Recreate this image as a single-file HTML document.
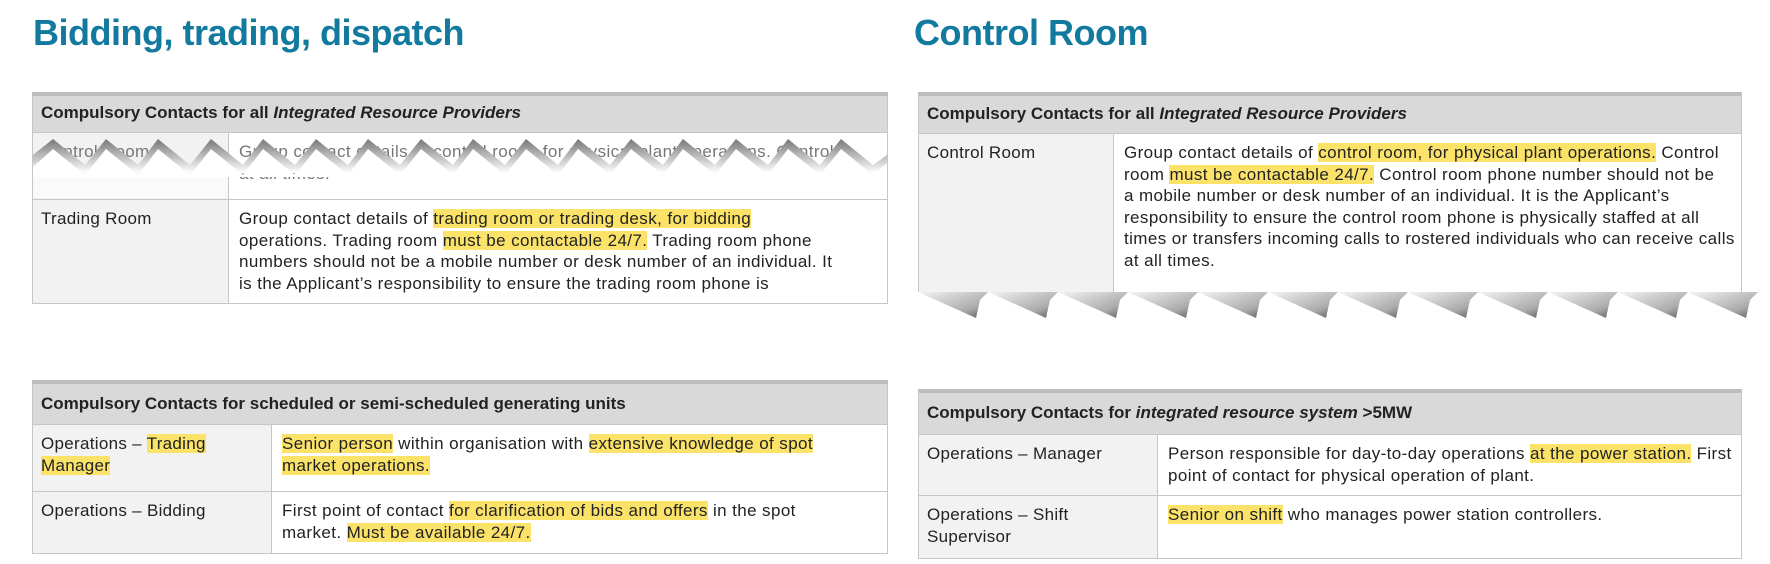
<!DOCTYPE html>
<html><head><meta charset="utf-8"><style>
body{margin:0;width:1770px;height:564px;background:#fff;position:relative;overflow:hidden;font-family:"Liberation Sans",sans-serif;color:#222}
.t{position:absolute;font-weight:bold;font-size:36px;color:#127a9e;letter-spacing:-0.5px}
.tb{position:absolute;border:1px solid #c6c6c6;border-top:4px solid #bdbdbd;box-sizing:border-box;background:#fff;overflow:hidden}
.h{position:absolute;left:0;right:0;top:0;background:#d9d9d9;font-size:17px;font-weight:bold;padding-left:8px;box-sizing:border-box;border-bottom:1px solid #c6c6c6;white-space:nowrap}
.r{position:absolute;left:0;right:0;border-bottom:1px solid #c6c6c6;box-sizing:border-box}
.l{position:absolute;left:0;top:0;bottom:0;background:#f2f2f2;border-right:1px solid #c6c6c6;padding:8px 0 0 8px;box-sizing:border-box;font-size:17px;letter-spacing:0.3px;line-height:21.5px;white-space:nowrap}
.d{position:absolute;top:0;padding-top:8px;font-size:17px;letter-spacing:0.4px;line-height:21.5px;white-space:nowrap}
.y{background:#fbe36a}
i{font-style:italic}
</style></head><body>
<div class="t" style="left:33px;top:12px">Bidding, trading, dispatch</div>
<div class="t" style="left:914px;top:12px">Control Room</div>

<!-- table 1 -->
<div class="tb" style="left:32px;top:92px;width:856px;height:212px">
 <div class="h" style="height:37px;line-height:34px">Compulsory Contacts for all <i>Integrated Resource Providers</i></div>
 <div class="r" style="top:37px;height:67px">
  <div class="l" style="width:196px;color:#777">Control Room</div>
  <div class="d" style="left:206px;color:#777">Group contact details of control room, for physical plant operations. Control<br>at all times.</div>
 </div>
 <svg style="position:absolute;left:0;top:37px" width="854" height="66">
  <defs><linearGradient id="g" x1="0" y1="0" x2="0" y2="1"><stop offset="0" stop-color="#777"/><stop offset="1" stop-color="#fff"/></linearGradient></defs>
  <polygon fill="url(#g)" points="0,22 20,6 52,32 73,6 105,32 125,6 157,32 178,6 210,32 230,6 262,32 283,6 315,32 335,6 367,32 388,6 420,32 440,6 472,32 493,6 525,32 545,6 577,32 598,6 630,32 650,6 682,32 703,6 735,32 755,6 787,32 808,6 840,32 854,22 854,40 0,40"/>
  <polygon fill="#fff" points="0,34 20,16 52,42 73,16 105,42 125,16 157,42 178,16 210,42 230,16 262,42 283,16 315,42 335,16 367,42 388,16 420,42 440,16 472,42 493,16 525,42 545,16 577,42 598,16 630,42 650,16 682,42 703,16 735,42 755,16 787,42 808,16 840,42 854,30 854,44 0,44"/>
  <rect x="0" y="44" width="195" height="21" fill="#fafafa"/>
  <rect x="205" y="58" width="649" height="7" fill="#fff"/>
 </svg>
 <div class="r" style="top:104px;height:104px;border-bottom:none">
  <div class="l" style="width:196px">Trading Room</div>
  <div class="d" style="left:206px">Group contact details of <span class="y">trading room or trading desk, for bidding</span><br>operations. Trading room <span class="y">must be contactable 24/7.</span> Trading room phone<br>numbers should not be a mobile number or desk number of an individual. It<br>is the Applicant’s responsibility to ensure the trading room phone is</div>
 </div>
</div>

<!-- table 2 -->
<div class="tb" style="left:918px;top:92px;width:824px;height:200px;border-bottom:none">
 <div class="h" style="height:38px;line-height:36px">Compulsory Contacts for all <i>Integrated Resource Providers</i></div>
 <div class="r" style="top:38px;height:160px;border-bottom:1px solid #c6c6c6">
  <div class="l" style="width:195px">Control Room</div>
  <div class="d" style="left:205px">Group contact details of <span class="y">control room, for physical plant operations.</span> Control<br>room <span class="y">must be contactable 24/7.</span> Control room phone number should not be<br>a mobile number or desk number of an individual. It is the Applicant’s<br>responsibility to ensure the control room phone is physically staffed at all<br>times or transfers incoming calls to rostered individuals who can receive calls<br>at all times.</div>
 </div>
</div>
<svg style="position:absolute;left:918px;top:290px" width="852" height="34">
 <defs><linearGradient id="g2" x1="0" y1="0" x2="1" y2="1"><stop offset="0" stop-color="#f4f4f4"/><stop offset="0.7" stop-color="#aaa"/><stop offset="1" stop-color="#555"/></linearGradient></defs>
 <g fill="url(#g2)">
  <polygon points="0,2 58,28 62,10 70,2"/>
  <polygon points="70,2 128,28 132,10 140,2"/>
  <polygon points="140,2 198,28 202,10 210,2"/>
  <polygon points="210,2 268,28 272,10 280,2"/>
  <polygon points="280,2 338,28 342,10 350,2"/>
  <polygon points="350,2 408,28 412,10 420,2"/>
  <polygon points="420,2 478,28 482,10 490,2"/>
  <polygon points="490,2 548,28 552,10 560,2"/>
  <polygon points="560,2 618,28 622,10 630,2"/>
  <polygon points="630,2 688,28 692,10 700,2"/>
  <polygon points="700,2 758,28 762,10 770,2"/>
  <polygon points="770,2 828,28 832,10 840,2"/>
 </g>
</svg>

<!-- table 3 -->
<div class="tb" style="left:32px;top:380px;width:856px;height:174px">
 <div class="h" style="height:41px;line-height:40px">Compulsory Contacts for scheduled or semi-scheduled generating units</div>
 <div class="r" style="top:41px;height:67px">
  <div class="l" style="width:239px">Operations – <span class="y">Trading</span><br><span class="y">Manager</span></div>
  <div class="d" style="left:249px"><span class="y">Senior person</span> within organisation with <span class="y">extensive knowledge of spot</span><br><span class="y">market operations.</span></div>
 </div>
 <div class="r" style="top:108px;height:61px;border-bottom:none">
  <div class="l" style="width:239px">Operations – Bidding</div>
  <div class="d" style="left:249px">First point of contact <span class="y">for clarification of bids and offers</span> in the spot<br>market. <span class="y">Must be available 24/7.</span></div>
 </div>
</div>

<!-- table 4 -->
<div class="tb" style="left:918px;top:389px;width:824px;height:170px">
 <div class="h" style="height:42px;line-height:40px">Compulsory Contacts for <i>integrated resource system</i> &gt;5MW</div>
 <div class="r" style="top:42px;height:61px">
  <div class="l" style="width:239px">Operations – Manager</div>
  <div class="d" style="left:249px">Person responsible for day-to-day operations <span class="y">at the power station.</span> First<br>point of contact for physical operation of plant.</div>
 </div>
 <div class="r" style="top:103px;height:62px;border-bottom:none">
  <div class="l" style="width:239px">Operations – Shift<br>Supervisor</div>
  <div class="d" style="left:249px"><span class="y">Senior on shift</span> who manages power station controllers.</div>
 </div>
</div>
</body></html>
